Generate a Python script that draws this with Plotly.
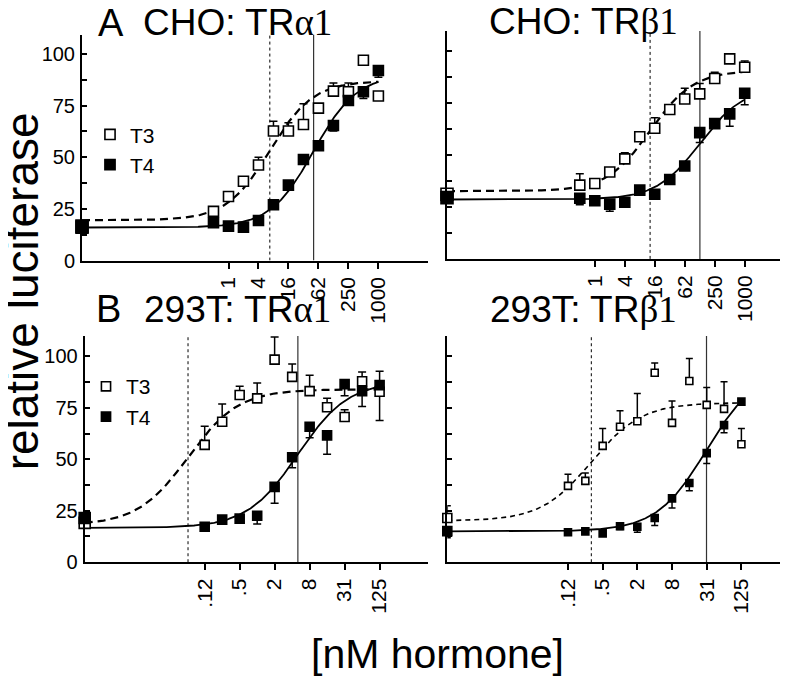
import numpy as np
import plotly.graph_objects as go

FONT = "Arial, Liberation Sans, Helvetica, sans-serif"
W, H = 788, 684

# ---------------- data ----------------
conc_cho = [0.488, 0.977, 1.95, 3.91, 7.81, 15.6, 31.25, 62.5, 125, 250, 500, 1000]
conc_293 = [0.122, 0.244, 0.488, 0.977, 1.95, 3.91, 7.81, 15.6, 31.25, 62.5, 125]

ticks_cho = [0.977, 3.91, 15.6, 62.5, 250, 1000]
ticklabels_cho = ["1", "4", "16", "62", "250", "1000"]
ticks_293 = [0.122, 0.488, 1.95, 7.81, 31.25, 125]
ticklabels_293 = [".12", ".5", "2", "8", "31", "125"]

# Panel A, CHO: TRalpha1   (first value = no-hormone baseline)
a1_t3 = [16.7, 23.8, 31.0, 38.4, 46.3, 62.7, 62.7, 65.9, 73.8, 82.0, 81.7, 97.0, 79.7]
a1_t3_err_up = [0, 0, 0, 0, 3.7, 4.8, 4.0, 10.0, 0, 4.0, 4.3, 0, 2.0]
a1_t3_err_dn = [0] * 13
a1_t4 = [16.2, 18.3, 16.7, 16.2, 19.4, 27.0, 36.5, 48.9, 55.6, 65.4, 77.5, 81.7, 92.0]
a1_t4_err_up = [0] * 13
a1_t4_err_dn = [0, 0, 0, 0, 0, 0, 0, 0, 0, 2.7, 0, 3.2, 3.2]
a1_fit_t3 = [19.5, 87.0, 6.6, 1.0]    # bottom, top, EC50, hill
a1_fit_t4 = [16.0, 90.0, 50.0, 1.0]

# Panel A, CHO: TRbeta1
a2_t3 = [31.0, 35.4, 36.2, 41.7, 48.0, 58.6, 62.7, 71.7, 76.7, 79.2, 86.6, 96.0, 92.0]
a2_t3_err_up = [0, 5.5, 0, 0, 3.0, 2.0, 5.0, 0, 5.2, 5.0, 3.0, 0, 3.0]
a2_t3_err_dn = [0] * 13
a2_t4 = [29.4, 29.1, 27.9, 26.3, 27.2, 33.0, 31.0, 38.1, 44.6, 60.6, 64.9, 69.6, 79.5]
a2_t4_err_up = [0] * 13
a2_t4_err_dn = [0, 3.1, 0, 3.4, 0, 0, 0, 0, 1.0, 4.7, 2.0, 6.0, 5.5]
a2_fit_t3 = [32.5, 90.5, 12.6, 1.0]
a2_fit_t4 = [28.5, 82.4, 126.0, 1.0]

# Panel B, 293T: TRalpha1
b1_t3 = [19.1, 57.0, 68.2, 81.2, 79.6, 98.4, 90.0, 83.1, 75.3, 70.5, 87.9, 82.8]
b1_t3_err_up = [0, 9.0, 8.6, 4.3, 7.4, 11.0, 6.3, 7.7, 4.3, 3.5, 4.5, 0]
b1_t3_err_dn = [0, 0, 0, 0, 0, 0, 0, 0, 0, 0, 0, 14.0]
b1_t4 = [21.5, 17.2, 20.7, 21.2, 22.6, 36.6, 51.0, 65.8, 61.6, 86.5, 83.1, 86.0]
b1_t4_err_up = [0, 0, 0, 0, 0, 0, 0, 0, 0, 0, 0, 6.7]
b1_t4_err_dn = [0, 0, 0, 0, 4.0, 7.9, 5.1, 5.3, 9.1, 5.6, 7.5, 0]
b1_fit_t3 = [18.0, 84.0, 0.063, 1.0]
b1_fit_t4 = [16.7, 88.0, 4.9, 1.0]

# Panel B, 293T: TRbeta1
b2_t3 = [21.5, 37.1, 39.5, 56.5, 65.8, 68.5, 92.0, 67.7, 88.0, 76.4, 74.5, 57.3]
b2_t3_err_up = [5.9, 5.6, 3.8, 8.5, 7.8, 13.5, 4.8, 10.6, 11.0, 8.5, 13.1, 7.7]
b2_t3_err_dn = [0] * 12
b2_t4 = [15.1, 14.6, 15.0, 14.0, 17.5, 17.2, 21.5, 31.0, 38.5, 53.0, 66.6, 78.0]
b2_t4_err_up = [0] * 12
b2_t4_err_dn = [3.2, 1.2, 0, 1.3, 1.6, 2.6, 3.7, 4.7, 3.8, 5.0, 3.7, 0]
b2_fit_t3 = [20.0, 77.5, 0.31, 1.0]
b2_fit_t4 = [15.0, 94.0, 31.0, 1.0]

# ---------------- layout helpers ----------------
def fx(p):
    return p / W

def fy(p):
    return 1 - p / H

panels = [
    dict(xdom=(74, 420), ydom=(256.7, 27), xr=(-2.952, 3.996), yr=(0, 109.4),
         conc=conc_cho, tv=ticks_cho, tt=ticklabels_cho,
         t3=(a1_t3, a1_t3_err_up, a1_t3_err_dn), t4=(a1_t4, a1_t4_err_up, a1_t4_err_dn),
         f3=a1_fit_t3, f4=a1_fit_t4, ms=10, labels=True, legend="legend",
         dash="8px,5px", dw=2.2),
    dict(xdom=(439, 788), ydom=(255, 23.3), xr=(-2.978, 4.03), yr=(0, 109.4),
         conc=conc_cho, tv=ticks_cho, tt=ticklabels_cho,
         t3=(a2_t3, a2_t3_err_up, a2_t3_err_dn), t4=(a2_t4, a2_t4_err_up, a2_t4_err_dn),
         f3=a2_fit_t3, f4=a2_fit_t4, ms=10, labels=False, legend=None,
         dash="8px,5px", dw=2.2),
    dict(xdom=(76.7, 420), ydom=(563.3, 333.3), xr=(-2.979, 2.93), yr=(0, 109.9),
         conc=conc_293, tv=ticks_293, tt=ticklabels_293,
         t3=(b1_t3, b1_t3_err_up, b1_t3_err_dn), t4=(b1_t4, b1_t4_err_up, b1_t4_err_dn),
         f3=b1_fit_t3, f4=b1_fit_t4, ms=9, labels=True, legend="legend2",
         dash="8px,5px", dw=2.2),
    dict(xdom=(439.3, 788), ydom=(563.3, 333.3), xr=(-3.009, 3.045), yr=(0, 109.9),
         conc=conc_293, tv=ticks_293, tt=ticklabels_293,
         t3=(b2_t3, b2_t3_err_up, b2_t3_err_dn), t4=(b2_t4, b2_t4_err_up, b2_t4_err_dn),
         f3=b2_fit_t3, f4=b2_fit_t4, ms=7, labels=False, legend=None,
         dash="5px,4px", dw=1.6),
]


def four_pl(x, p):
    bottom, top, ec50, hill = p
    return bottom + (top - bottom) / (1 + (ec50 / x) ** hill)


fig = go.Figure()
layout = {}
for i, P in enumerate(panels):
    k = "" if i == 0 else str(i + 1)
    xa, ya = "x" + k, "y" + k
    base_x = 10 ** P["xr"][0]
    xs = [base_x] + list(P["conc"])
    ytop = P["yr"][1]

    # EC50 reference lines
    fig.add_trace(go.Scatter(x=[P["f3"][2]] * 2, y=[0, ytop], mode="lines",
                             line=dict(color="black", width=1, dash="dot"),
                             xaxis=xa, yaxis=ya, showlegend=False, hoverinfo="skip"))
    fig.add_trace(go.Scatter(x=[P["f4"][2]] * 2, y=[0, ytop], mode="lines",
                             line=dict(color="#333333", width=1.2),
                             xaxis=xa, yaxis=ya, showlegend=False, hoverinfo="skip"))
    # fitted curves
    xc = np.logspace(P["xr"][0], np.log10(P["conc"][-1]), 300)
    fig.add_trace(go.Scatter(x=xc, y=four_pl(xc, P["f3"]), mode="lines",
                             line=dict(color="black", width=P["dw"], dash=P["dash"]),
                             xaxis=xa, yaxis=ya, showlegend=False, hoverinfo="skip"))
    fig.add_trace(go.Scatter(x=xc, y=four_pl(xc, P["f4"]), mode="lines",
                             line=dict(color="black", width=1.8),
                             xaxis=xa, yaxis=ya, showlegend=False, hoverinfo="skip"))
    sizes = [P["ms"] + 2] + [P["ms"]] * len(P["conc"])
    cap = 4 if P["ms"] >= 9 else 3.5
    for name, ser, sym_color in (("T3", P["t3"], "white"), ("T4", P["t4"], "black")):
        vals, eu, ed = ser
        tr = go.Scatter(
            x=xs, y=vals, mode="markers", name=name,
            marker=dict(symbol="square", size=sizes, color=sym_color, opacity=1,
                        line=dict(color="black", width=1.6)),
            error_y=dict(type="data", symmetric=False, array=eu, arrayminus=ed,
                         color="black", thickness=1.5, width=cap),
            cliponaxis=False, xaxis=xa, yaxis=ya,
            showlegend=P["legend"] is not None,
        )
        if P["legend"] is not None:
            tr.legend = P["legend"]
        fig.add_trace(tr)

    layout["xaxis" + k] = dict(
        type="log", range=list(P["xr"]), domain=[fx(P["xdom"][0]), fx(P["xdom"][1])],
        anchor=ya, showline=True, linecolor="black", linewidth=2,
        showgrid=False, zeroline=False, ticks="outside", ticklen=6, tickwidth=1.5,
        tickcolor="black", tickvals=P["tv"], ticktext=P["tt"], tickangle=-90,
        tickfont=dict(family=FONT, size=21, color="black"),
    )
    layout["yaxis" + k] = dict(
        range=list(P["yr"]), domain=[fy(P["ydom"][0]), fy(P["ydom"][1])],
        anchor=xa, showline=True, linecolor="black", linewidth=2,
        showgrid=False, zeroline=False, ticks="inside", ticklen=5, tickwidth=1.5,
        tickcolor="black", tickvals=[0, 25, 50, 75, 100],
        showticklabels=P["labels"], ticklabelstandoff=1,
        minor=dict(tickvals=[12.5, 37.5, 62.5, 87.5], ticks="inside", ticklen=5,
                   tickwidth=1.5, tickcolor="black"),
        tickfont=dict(family=FONT, size=20, color="black"),
    )

ann = []
def title(x, y, txt, size=37):
    ann.append(dict(x=fx(x), y=fy(y), xref="paper", yref="paper", text=txt,
                    showarrow=False, xanchor="center", yanchor="middle",
                    font=dict(family=FONT, size=size, color="black")))

greek = "<span style='font-family:Liberation Serif, Times New Roman, serif'>%s1</span>"
title(103, 15, "A", 38)
title(229, 15, "CHO: TR" + greek % "α")
title(575, 14, "CHO: TR" + greek % "β")
title(100.5, 306, "B", 38)
title(229, 306, "293T: TR" + greek % "α")
title(575, 306, "293T: TR" + greek % "β")
title(429, 657, "[nM hormone]", 41)
ann.append(dict(x=fx(-14), y=fy(288), xref="paper", yref="paper", text="relative luciferase",
                showarrow=False, textangle=-90, xanchor="left", yanchor="middle",
                font=dict(family=FONT, size=46, color="black")))

fig.update_layout(
    width=W, height=H, margin=dict(l=0, r=0, t=0, b=0),
    plot_bgcolor="white", paper_bgcolor="white",
    annotations=ann,
    legend=dict(x=fx(82), y=fy(108), xanchor="left", yanchor="top",
                font=dict(family=FONT, size=21, color="black"),
                bgcolor="rgba(0,0,0,0)", itemwidth=30),
    legend2=dict(x=fx(78), y=fy(364), xanchor="left", yanchor="top",
                 font=dict(family=FONT, size=21, color="black"),
                 bgcolor="rgba(0,0,0,0)", itemwidth=30),
    **layout,
)

fig.write_html("out.html")
